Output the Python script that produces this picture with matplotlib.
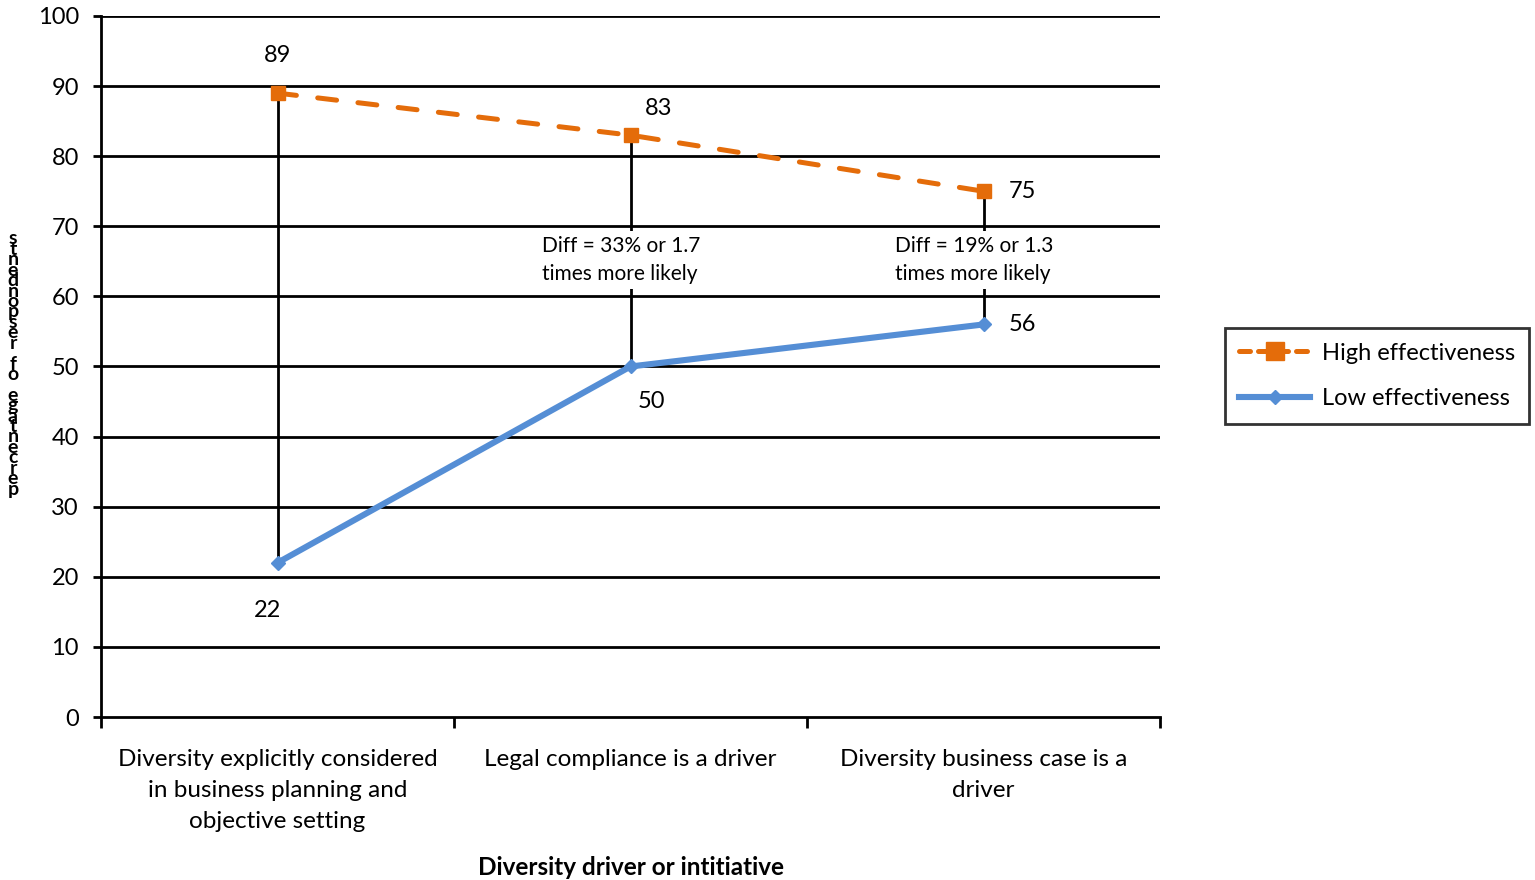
import matplotlib
matplotlib.use("Agg")
import matplotlib.pyplot as plt
from matplotlib.lines import Line2D

plt.rcParams['font.family'] = ['Lato', 'DejaVu Sans']

categories = ["Diversity explicitly considered\nin business planning and\nobjective setting",
              "Legal compliance is a driver",
              "Diversity business case is a\ndriver"]
high = [89, 83, 75]
low = [22, 50, 56]
diff_notes = [None, "Diff = 33% or 1.7\ntimes more likely", "Diff = 19% or 1.3\ntimes more likely"]
y_ticks = list(range(0, 101, 10))

orange = "#E46C0A"
blue = "#558ED5"

fig = plt.figure(figsize=(15.35, 8.8), dpi=100)
ax = fig.add_axes([101/1535, 1-717/880, (1160-101)/1535, (717-16)/880])

x = [0.5, 1.5, 2.5]
ax.set_xlim(0, 3)
ax.set_ylim(0, 100)

for yv in y_ticks[1:]:
    ax.axhline(yv, color="black", lw=2, zorder=1)

# connectors between the two series
for xi, h, l in zip(x, high, low):
    ax.plot([xi, xi], [l, h], color="black", lw=2, zorder=2)

ax.plot(x, high, color=orange, lw=3.6, ls=(0, (3.8, 4.3)), dash_capstyle="round",
        marker="s", ms=10, mfc=orange, mec=orange, zorder=4, label="High effectiveness")
ax.plot(x, low, color=blue, lw=4.4, marker="D", ms=7,
        mfc=blue, mec=blue, zorder=4, label="Low effectiveness")

# value labels
fs_val = 17
ax.annotate(f"{high[0]}", (x[0], high[0]), xytext=(0, 27), textcoords="offset points",
            ha="center", va="center", fontsize=fs_val)
ax.annotate(f"{high[1]}", (x[1], high[1]), xytext=(20, 19), textcoords="offset points",
            ha="center", va="center", fontsize=fs_val)
ax.annotate(f"{high[2]}", (x[2], high[2]), xytext=(28, 0), textcoords="offset points",
            ha="center", va="center", fontsize=fs_val)
ax.annotate(f"{low[0]}", (x[0], low[0]), xytext=(-7, -34), textcoords="offset points",
            ha="center", va="center", fontsize=fs_val)
ax.annotate(f"{low[1]}", (x[1], low[1]), xytext=(15, -25), textcoords="offset points",
            ha="center", va="center", fontsize=fs_val)
ax.annotate(f"{low[2]}", (x[2], low[2]), xytext=(28, 0), textcoords="offset points",
            ha="center", va="center", fontsize=fs_val)

for xi, note in zip(x, diff_notes):
    if note:
        ax.text(xi - 0.25, 65.2, note, ha="left", va="center", fontsize=15,
                linespacing=1.55, zorder=3,
                bbox=dict(boxstyle="square,pad=0.2", fc="white", ec="none"))

ax.set_yticks(y_ticks)
ax.set_yticklabels([str(v) for v in y_ticks], fontsize=17)
ax.set_xticks([0, 1, 2, 3])
ax.set_xticklabels([])
ax.set_xticks(x, minor=True)
ax.set_xticklabels(categories, minor=True, fontsize=17.5, linespacing=1.6)
ax.tick_params(axis="x", which="minor", length=0, pad=23)
ax.tick_params(axis="x", which="major", length=8, width=2, direction="out")
ax.tick_params(axis="y", length=6, width=2, pad=10)

for s in ["top", "right"]:
    ax.spines[s].set_visible(False)
for s in ["left", "bottom"]:
    ax.spines[s].set_linewidth(2)

ax.set_xlabel("Diversity driver or intitiative", fontsize=17.5, fontweight="bold", labelpad=17)

# stacked vertical axis title
ylab = "percentage of respondents"
fig.text(13/1535, 1-364/880, "\n".join(reversed(ylab)), ha="center", va="center",
         fontsize=14, fontweight="bold", linespacing=0.53)

handles = [Line2D([], [], color=orange, lw=3.6, ls=(0, (2.2, 1.6)), dash_capstyle="round",
                  marker="s", ms=13),
           Line2D([], [], color=blue, lw=4.4, marker="D", ms=7)]
leg = fig.legend(handles, ["High effectiveness", "Low effectiveness"],
                 loc="center left", bbox_to_anchor=(1225/1535, 1-376/880),
                 fontsize=17, frameon=True, fancybox=False, edgecolor="black",
                 handlelength=3.0, labelspacing=1.05, borderpad=0.6, handletextpad=0.5,
                 borderaxespad=0)
leg.get_frame().set_linewidth(2)

fig.savefig("out.png", dpi=100)
